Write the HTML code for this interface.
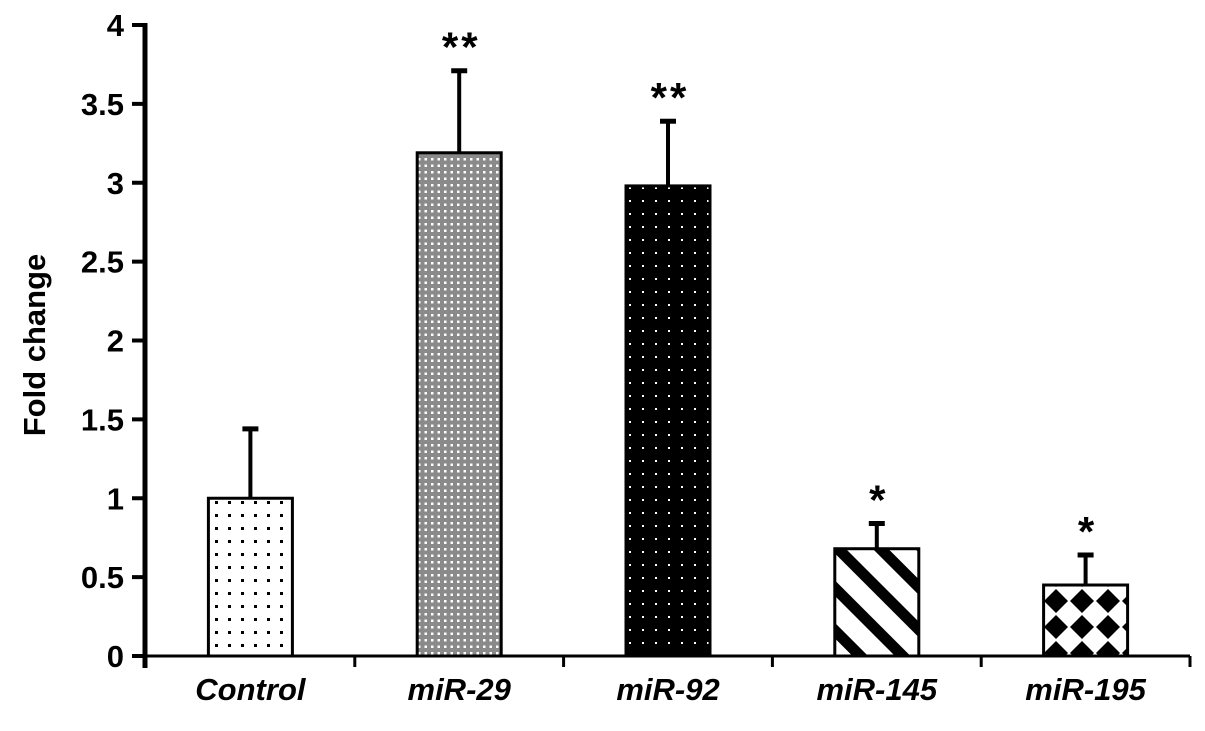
<!DOCTYPE html>
<html><head><meta charset="utf-8"><style>
html,body{margin:0;padding:0;background:#fff;}
svg{display:block;font-family:"Liberation Sans","DejaVu Sans",sans-serif;}
</style></head><body>
<svg id="chart" width="1205" height="731" viewBox="0 0 1205 731" xmlns="http://www.w3.org/2000/svg">
<defs>
<pattern id="p0" width="13" height="13" patternUnits="userSpaceOnUse" x="2" y="2"><rect width="13" height="13" fill="#fff"/><rect x="5" y="5" width="3" height="3" fill="#000"/></pattern>
<pattern id="p1" width="6.5" height="6.5" patternUnits="userSpaceOnUse"><rect width="7" height="7" fill="#8a8a8a"/><rect x="2" y="2" width="2.5" height="2.5" fill="#fff"/></pattern>
<pattern id="p2" width="13" height="13" patternUnits="userSpaceOnUse"><rect width="13" height="13" fill="#000"/><rect x="5" y="5" width="2" height="2" fill="#fff"/></pattern>
<pattern id="p3" width="30" height="30" patternUnits="userSpaceOnUse" patternTransform="rotate(45)"><rect width="30" height="30" fill="#fff"/><rect width="30" height="11" fill="#000"/></pattern>
<pattern id="p4" width="26" height="26" patternUnits="userSpaceOnUse" x="1043" y="588"><rect width="26" height="26" fill="#fff"/><polygon points="13,1 25,13 13,25 1,13" fill="#000"/></pattern>
</defs>
<g id="plot"></g>
<text transform="translate(45,345) rotate(-90)" text-anchor="middle" font-size="31" font-weight="bold">Fold change</text>
</svg>
<script>
const categories = ["Control","miR-29","miR-92","miR-145","miR-195"];
const values = [1.0, 3.19, 2.98, 0.68, 0.45];
const errors = [0.44, 0.52, 0.41, 0.16, 0.19];
const stars = ["", "**", "**", "*", "*"];
const yTicks = [0,0.5,1,1.5,2,2.5,3,3.5,4];
const yTickLabels = ["0","0.5","1","1.5","2","2.5","3","3.5","4"];
const NS="http://www.w3.org/2000/svg";
const g=document.getElementById('plot');
const x0=146, x1=1190, y0=656, yTop=25;
function y(v){return y0-(y0-yTop)*v/4;}
const slot=(x1-x0)/categories.length;
function xc(i){return x0+slot*(i+0.5);}
function mk(t,a){const e=document.createElementNS(NS,t);for(const k in a)e.setAttribute(k,a[k]);g.appendChild(e);return e;}
const bw=84;
categories.forEach((c,i)=>{
  const cx=xc(i);
  const top=y(values[i]+errors[i]);
  const err=mk('line',{x1:cx,x2:cx,y1:y(values[i]),y2:top,stroke:'#000','stroke-width':4});
  
  
  const cap=mk('line',{x1:cx-8,x2:cx+8,y1:top,y2:top,stroke:'#000','stroke-width':5});
  
  
  const b=mk('rect',{x:cx-bw/2,y:y(values[i]),width:bw,height:y0-y(values[i]),fill:'url(#p'+i+')',stroke:'#000','stroke-width':3});
  
  
  if(stars[i]){const s=mk('text',{x:cx+2,y:top-9,'text-anchor':'middle','font-size':42,'font-weight':'bold','letter-spacing':3});s.textContent=stars[i];
  
  }
  const l=mk('text',{x:cx,y:700,'text-anchor':'middle','font-size':31,'font-weight':'bold','font-style':'italic'});l.textContent=c;
  
  
});
const ya=mk('line',{x1:x0-1,x2:x0-1,y1:yTop-2,y2:668,stroke:'#000','stroke-width':5});


const xa=mk('line',{x1:x0,x2:x1,y1:y0,y2:y0,stroke:'#000','stroke-width':3});


for(let i=1;i<=categories.length;i++){const t=mk('line',{x1:x0+slot*i,x2:x0+slot*i,y1:y0,y2:y0+11,stroke:'#000','stroke-width':3});

}
yTicks.forEach((v,i)=>{
  const t=mk('line',{x1:132,x2:x0,y1:y(v),y2:y(v),stroke:'#000','stroke-width':4});
  
  
  const l=mk('text',{x:124,y:y(v)+11,'text-anchor':'end','font-size':31,'font-weight':'bold'});l.textContent=yTickLabels[i];
  
  
});
</script>
</body></html>
